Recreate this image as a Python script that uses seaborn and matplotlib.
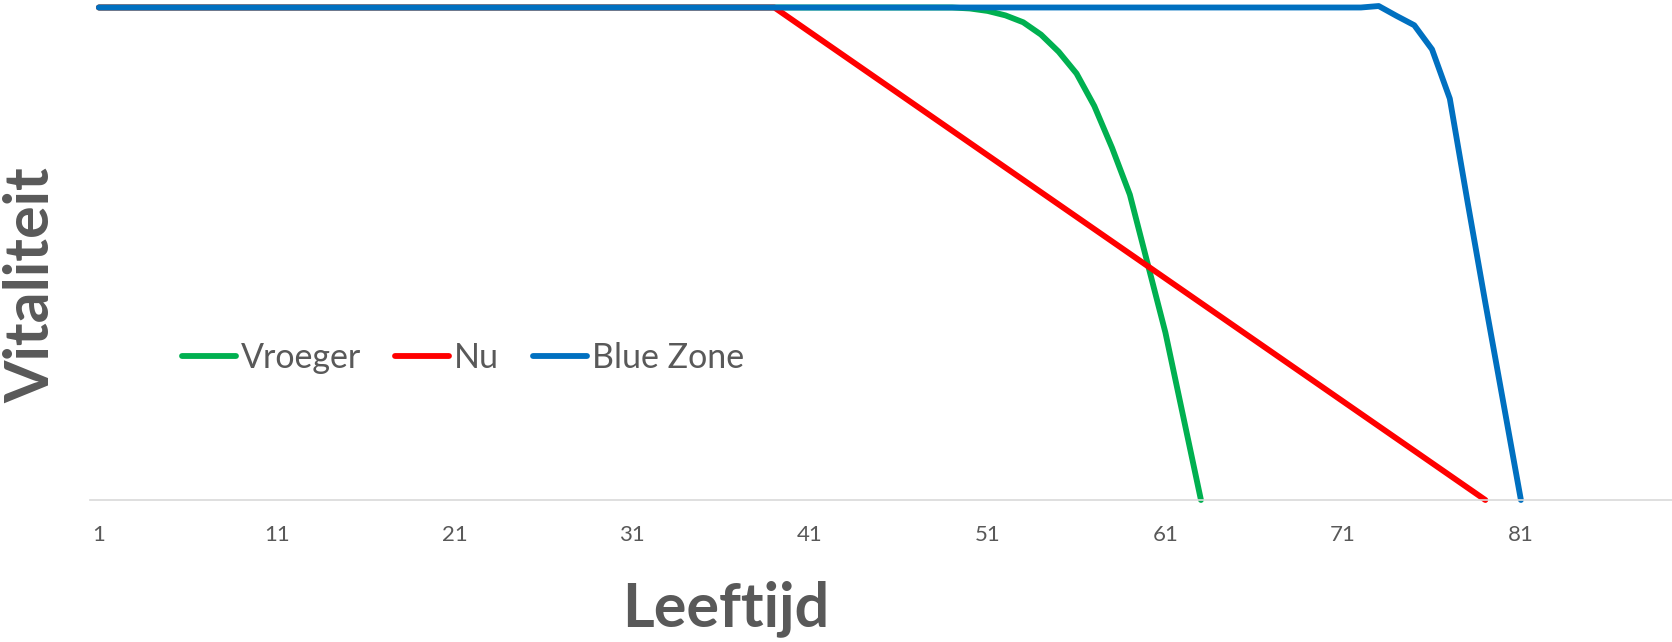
import matplotlib
matplotlib.use("Agg")
import matplotlib.pyplot as plt
import seaborn as sns
import pandas as pd

# ---- data ----
series_names = ["Vroeger", "Nu", "Blue Zone"]
series_colors = ["#00B050", "#FF0000", "#0070C0"]

vroeger_age = [1, 48, 49, 50, 51, 52, 53, 54, 55, 56, 57, 58, 59, 60, 61, 62, 63]
vroeger_val = [100, 100, 100, 99.8, 99.3, 98.4, 97.0, 94.5, 91.0, 86.6, 80.0, 71.5, 62.0, 48.0, 34.0, 17.0, 0]

nu_age = [1, 39, 79]
nu_val = [100, 100, 0]

blue_age = [1, 72, 73, 74, 75, 76, 77, 78, 79, 80, 81]
blue_val = [100, 100, 100.3, 98.3, 96.4, 91.5, 81.5, 60.5, 40.0, 20.0, 0]

n_categories = 89
tick_ages = [1, 11, 21, 31, 41, 51, 61, 71, 81]
x_label = "Leeftijd"
y_label = "Vitaliteit"

frames = []
for name, ages, vals in [("Vroeger", vroeger_age, vroeger_val),
                         ("Nu", nu_age, nu_val),
                         ("Blue Zone", blue_age, blue_val)]:
    frames.append(pd.DataFrame({"Leeftijd": ages, "Vitaliteit": vals, "Serie": name}))
df = pd.concat(frames, ignore_index=True)

sns.set_theme(style="white")
plt.rcParams["font.family"] = ["Lato", "DejaVu Sans"]

W, H = 1672, 642
fig = plt.figure(figsize=(W / 100, H / 100), dpi=100)
ax = fig.add_axes([90 / W, 1 - 500 / H, 1 - 90 / W, (500 - 7.5) / H])

sns.lineplot(data=df, x="Leeftijd", y="Vitaliteit", hue="Serie",
             hue_order=series_names, palette=series_colors,
             linewidth=4.2, ax=ax, legend=True, sort=True)
for ln in ax.get_lines():
    ln.set_clip_on(False)
    ln.set_solid_capstyle("round")
    ln.set_solid_joinstyle("round")

ax.set_xlim(0.5, n_categories + 0.5)
ax.set_ylim(0, 100)
ax.set_yticks([])
ax.set_xticks(tick_ages)
ax.set_xticklabels([str(t) for t in tick_ages], fontsize=16, color="#595959")
ax.tick_params(axis="x", length=0, pad=18)

for s in ["top", "right", "left"]:
    ax.spines[s].set_visible(False)
ax.spines["bottom"].set_color("#D9D9D9")
ax.spines["bottom"].set_linewidth(1.2)

ax.set_xlabel("")
ax.set_ylabel("")
fig.text(726 / W, 1 - 609 / H, x_label, fontsize=44, fontweight="bold",
         color="#595959", ha="center", va="center")
fig.text(31 / W, 1 - 285 / H, y_label, fontsize=44, fontweight="bold",
         color="#595959", ha="center", va="center", rotation=90)

handles, labels = ax.get_legend_handles_labels()
leg = ax.legend(handles, labels, ncol=3, frameon=False, loc="center left",
                bbox_to_anchor=(182 / W, 1 - 358 / H), bbox_transform=fig.transFigure,
                fontsize=24.5, handlelength=1.58, handletextpad=0.15,
                columnspacing=1.0, borderpad=0, borderaxespad=0)
for t in leg.get_texts():
    t.set_color("#595959")
for h in leg.legend_handles:
    h.set_linewidth(4.2)
    h.set_solid_capstyle("round")

fig.savefig("out.png", dpi=100, facecolor="white")
